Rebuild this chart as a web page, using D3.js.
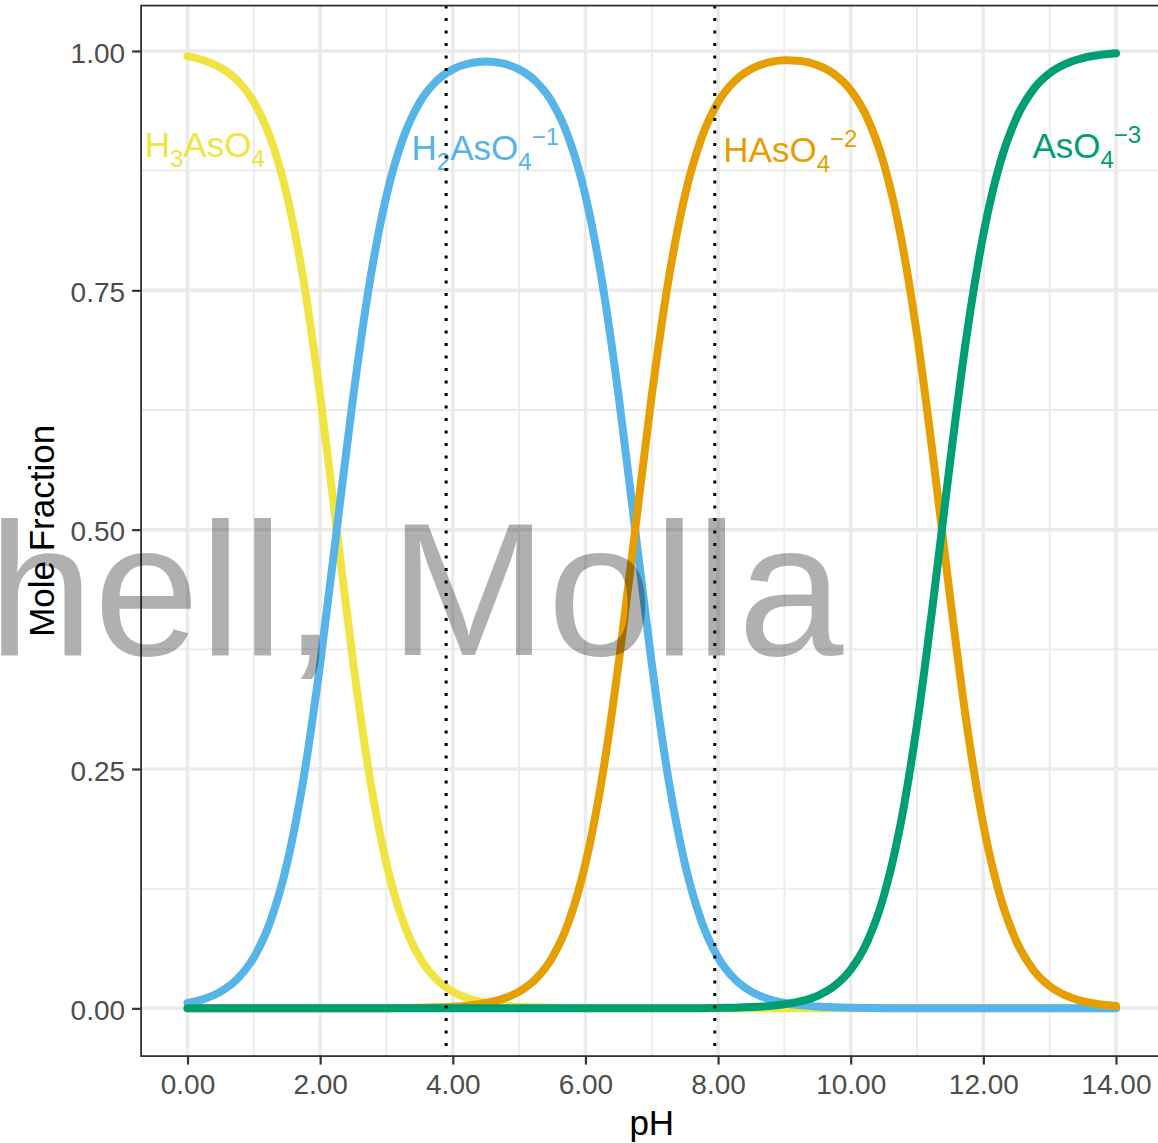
<!DOCTYPE html>
<html>
<head>
<meta charset="utf-8">
<script src="https://cdn.jsdelivr.net/npm/d3@7"></script>
<style>
  html, body { margin: 0; padding: 0; background: #fff; }
  svg { display: block; font-family: "Liberation Sans", Arial, sans-serif; }
</style>
</head>
<body>
<svg id="chart" width="1158" height="1143"></svg>
<script>
// ---------------- data ----------------
const pH = [0, 0.25, 0.5, 0.75, 1, 1.25, 1.5, 1.75, 2, 2.25, 2.5, 2.75, 3, 3.25, 3.5, 3.75,
  4, 4.25, 4.5, 4.75, 5, 5.25, 5.5, 5.75, 6, 6.25, 6.5, 6.75, 7, 7.25, 7.5, 7.75,
  8, 8.25, 8.5, 8.75, 9, 9.25, 9.5, 9.75, 10, 10.25, 10.5, 10.75, 11, 11.25, 11.5, 11.75,
  12, 12.25, 12.5, 12.75, 13, 13.25, 13.5, 13.75, 14];

const H3AsO4 = [0.9944, 0.9901, 0.9825, 0.9694, 0.9468, 0.9091, 0.8490, 0.7598, 0.6401, 0.5000,
  0.3599, 0.2402, 0.1510, 0.0909, 0.0532, 0.0306, 0.0174, 0.0099, 0.0056, 0.0031,
  0.0017, 0.0010, 0.0005, 0.0003, 0.0002, 0.0001, 0, 0, 0, 0,
  0, 0, 0, 0, 0, 0, 0, 0, 0, 0,
  0, 0, 0, 0, 0, 0, 0, 0, 0, 0,
  0, 0, 0, 0, 0, 0, 0];

const H2AsO4 = [0.0056, 0.0099, 0.0175, 0.0306, 0.0532, 0.0909, 0.1510, 0.2402, 0.3599, 0.5000,
  0.6400, 0.7597, 0.8489, 0.9088, 0.9463, 0.9684, 0.9808, 0.9870, 0.9889, 0.9870,
  0.9808, 0.9684, 0.9463, 0.9088, 0.8489, 0.7597, 0.6400, 0.5000, 0.3599, 0.2402,
  0.1510, 0.0909, 0.0532, 0.0306, 0.0175, 0.0099, 0.0056, 0.0031, 0.0018, 0.0010,
  0.0005, 0.0003, 0.0002, 0.0001, 0, 0, 0, 0, 0, 0,
  0, 0, 0, 0, 0, 0, 0];

const HAsO4 = [0, 0, 0, 0, 0, 0, 0, 0, 0, 0,
  0, 0.0001, 0.0002, 0.0003, 0.0005, 0.0010, 0.0017, 0.0031, 0.0056, 0.0099,
  0.0174, 0.0306, 0.0532, 0.0909, 0.1510, 0.2402, 0.3599, 0.5000, 0.6400, 0.7597,
  0.8489, 0.9089, 0.9464, 0.9686, 0.9812, 0.9878, 0.9903, 0.9895, 0.9851, 0.9759,
  0.9590, 0.9300, 0.8822, 0.8083, 0.7034, 0.5715, 0.4285, 0.2966, 0.1917, 0.1177,
  0.0698, 0.0405, 0.0232, 0.0132, 0.0074, 0.0042, 0.0024];

const AsO4 = [0, 0, 0, 0, 0, 0, 0, 0, 0, 0,
  0, 0, 0, 0, 0, 0, 0, 0, 0, 0,
  0, 0, 0, 0, 0, 0, 0, 0, 0, 0.0001,
  0.0001, 0.0002, 0.0004, 0.0007, 0.0013, 0.0023, 0.0042, 0.0074, 0.0131, 0.0231,
  0.0404, 0.0697, 0.1176, 0.1917, 0.2966, 0.4285, 0.5715, 0.7034, 0.8083, 0.8823,
  0.9302, 0.9595, 0.9768, 0.9868, 0.9926, 0.9958, 0.9976];

const seriesValues = [H3AsO4, H2AsO4, HAsO4, AsO4];
const seriesColors = ["#F0E442", "#56B4E9", "#E69F00", "#009E73"];

// species labels (plotmath-like parts: n = normal, sub, sup)
const labelParts = [
  [["H","n"],["3","sub"],["AsO","n"],["4","sub"]],
  [["H","n"],["2","sub"],["AsO","n"],["4","sub"],["\u22121","sup"]],
  [["HAsO","n"],["4","sub"],["\u22122","sup"]],
  [["AsO","n"],["4","sub"],["\u22123","sup"]]
];
const labelPH = [0.26, 4.49, 9.09, 13.56];
const labelFrac = [0.889, 0.886, 0.884, 0.888];

const vlinePH = [3.9, 7.95];
const xTicks = [0, 2, 4, 6, 8, 10, 12, 14];
const xMinor = [1, 3, 5, 7, 9, 11, 13];
const yTicks = [0, 0.25, 0.5, 0.75, 1];
const yMinor = [0.125, 0.375, 0.625, 0.875];
const xTitle = "pH";
const yTitle = "Mole Fraction";
const watermark = "hell, Molla";

// ---------------- layout ----------------
const svg = d3.select("#chart");
const W = 1158, H = 1143;
const x = d3.scaleLinear().domain([-0.7, 14.7]).range([141.1, 1162.4]);
const y = d3.scaleLinear().domain([-0.0499, 1.0474]).range([1056.1, 5.6]);
const [px0, px1] = x.range();
const [py0, py1] = y.range();

svg.append("rect").attr("width", W).attr("height", H).attr("fill", "#fff");

svg.append("defs").append("clipPath").attr("id", "panelClip")
  .append("rect").attr("x", px0).attr("y", py1).attr("width", px1 - px0).attr("height", py0 - py1);

const panel = svg.append("g").attr("clip-path", "url(#panelClip)");

// grid
panel.selectAll(".xminor").data(xMinor).enter().append("line")
  .attr("x1", d => x(d)).attr("x2", d => x(d)).attr("y1", py1).attr("y2", py0)
  .attr("stroke", "#EBEBEB").attr("stroke-width", 1.8);
panel.selectAll(".yminor").data(yMinor).enter().append("line")
  .attr("y1", d => y(d)).attr("y2", d => y(d)).attr("x1", px0).attr("x2", px1)
  .attr("stroke", "#EBEBEB").attr("stroke-width", 1.8);
panel.selectAll(".xmajor").data(xTicks).enter().append("line")
  .attr("x1", d => x(d)).attr("x2", d => x(d)).attr("y1", py1).attr("y2", py0)
  .attr("stroke", "#EBEBEB").attr("stroke-width", 3.5);
panel.selectAll(".ymajor").data(yTicks).enter().append("line")
  .attr("y1", d => y(d)).attr("y2", d => y(d)).attr("x1", px0).attr("x2", px1)
  .attr("stroke", "#EBEBEB").attr("stroke-width", 3.5);

// curves
const line = d3.line()
  .x((d, i) => x(pH[i]))
  .y(d => y(d))
  .curve(d3.curveMonotoneX);

panel.selectAll(".curve").data(seriesValues).enter().append("path")
  .attr("d", d => line(d))
  .attr("fill", "none")
  .attr("stroke", (d, i) => seriesColors[i])
  .attr("stroke-width", 8)
  .attr("stroke-linecap", "round")
  .attr("stroke-linejoin", "round");

// species labels
labelParts.forEach((parts, i) => {
  const t = panel.append("text")
    .attr("x", x(labelPH[i]))
    .attr("y", y(labelFrac[i]))
    .attr("text-anchor", "middle")
    .attr("fill", seriesColors[i])
    .attr("font-size", 35);
  let state = "n";
  parts.forEach(([txt, kind]) => {
    let dy = 0;
    if (state === "n" && kind === "sub") dy = 10;
    if (state === "sub" && kind === "n") dy = -10;
    if (state === "sub" && kind === "sup") dy = -25;
    if (state === "n" && kind === "sup") dy = -15;
    t.append("tspan")
      .attr("dy", dy)
      .attr("font-size", kind === "n" ? 35 : 24)
      .text(txt);
    state = kind;
  });
});

// vertical dotted lines
panel.selectAll(".vline").data(vlinePH).enter().append("line")
  .attr("x1", d => x(d)).attr("x2", d => x(d)).attr("y1", py1).attr("y2", py0)
  .attr("stroke", "#000").attr("stroke-width", 3)
  .attr("stroke-dasharray", "3,9.5");

// panel border
svg.append("rect")
  .attr("x", px0).attr("y", py1).attr("width", px1 - px0).attr("height", py0 - py1)
  .attr("fill", "none").attr("stroke", "#333333").attr("stroke-width", 1.8);

// axes
const xAxis = svg.append("g").attr("transform", `translate(0,${py0})`)
  .call(d3.axisBottom(x).tickValues(xTicks).tickFormat(d3.format(".2f")).tickSize(8.5).tickPadding(9.5));
const yAxis = svg.append("g").attr("transform", `translate(${px0},0)`)
  .call(d3.axisLeft(y).tickValues(yTicks).tickFormat(d3.format(".2f")).tickSize(9).tickPadding(7));
[xAxis, yAxis].forEach(a => {
  a.select(".domain").remove();
  a.selectAll(".tick line").attr("stroke", "#333333").attr("stroke-width", 2.2);
  a.selectAll(".tick text").attr("fill", "#4D4D4D").attr("font-size", 28)
    .attr("font-family", "'Liberation Sans', Arial, sans-serif");
});
yAxis.selectAll(".tick text").attr("dy", "0.4em");

// titles
svg.append("text")
  .attr("x", (px0 + px1) / 2).attr("y", 1135)
  .attr("text-anchor", "middle").attr("font-size", 35).attr("fill", "#000")
  .text(xTitle);
svg.append("text")
  .attr("transform", `translate(54,${(py0 + py1) / 2}) rotate(-90)`)
  .attr("text-anchor", "middle").attr("font-size", 35).attr("fill", "#000")
  .text(yTitle);

// watermark
svg.append("text")
  .attr("x", -12).attr("y", 655)
  .attr("font-size", 190)
  .attr("fill", "#000").attr("fill-opacity", 0.31)
  .text(watermark);
</script>
</body>
</html>
